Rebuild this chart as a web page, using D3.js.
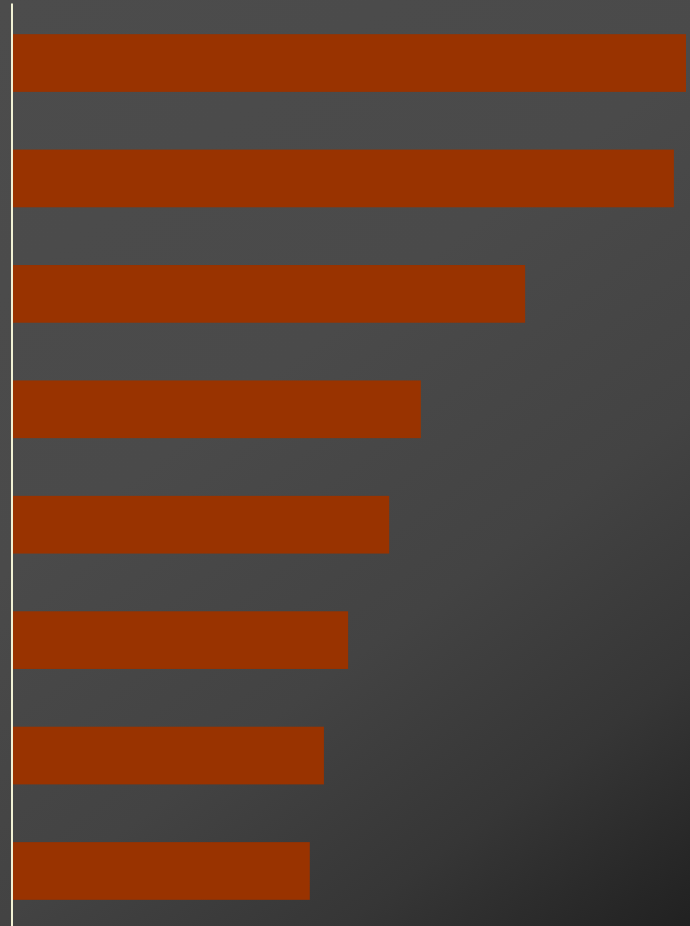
<!DOCTYPE html>
<html>
<head>
<meta charset="utf-8">
<script src="https://cdn.jsdelivr.net/npm/d3@7"></script>
<style>
  html, body { margin: 0; padding: 0; background: #222; overflow: hidden; }
  svg { display: block; }
</style>
</head>
<body>
<svg id="svg_bars" width="690" height="926"></svg>
<script>
// Bar chart data (no labels shown in the picture)
const categories = ['1', '2', '3', '4', '5', '6', '7', '8'];
const values = [100, 98.2, 76.1, 60.6, 55.9, 49.8, 46.2, 44.1];

const width = 690;
const height = 926;

let svg = d3.select('#svg_bars');

/* Background gradient, light top-left to dark bottom-right */
let defs = svg.append('defs');
let grad = defs.append('linearGradient')
    .attr('id', 'bg')
    .attr('gradientUnits', 'userSpaceOnUse')
    .attr('x1', 0).attr('y1', 0)
    .attr('x2', width).attr('y2', height);
grad.append('stop').attr('offset', '0%').attr('stop-color', '#4c4c4c');
grad.append('stop').attr('offset', '40%').attr('stop-color', '#4a4a4a');
grad.append('stop').attr('offset', '64%').attr('stop-color', '#434343');
grad.append('stop').attr('offset', '82%').attr('stop-color', '#363636');
grad.append('stop').attr('offset', '100%').attr('stop-color', '#212121');

svg.append('rect')
   .attr('width', width)
   .attr('height', height)
   .attr('fill', 'url(#bg)');

/* Scales */
let xScale = d3.scaleLinear()
    .domain([0, 100])
    .range([13, 686]);

let yScale = d3.scaleBand()
    .domain(categories)
    .range([3, 931])
    .paddingInner(0.5)
    .paddingOuter(0.27);

/* Bars */
svg.append('g')
   .selectAll('rect')
   .data(values)
   .join('rect')
   .attr('x', xScale(0))
   .attr('y', (d, i) => yScale(categories[i]))
   .attr('width', d => xScale(d) - xScale(0))
   .attr('height', yScale.bandwidth())
   .attr('fill', '#993300');

/* Y axis: only the line */
let yAxis = d3.axisLeft(yScale)
    .tickSize(0)
    .tickSizeOuter(0)
    .tickFormat('');

let gy = svg.append('g')
   .attr('transform', `translate(${11.5}, 0)`)
   .call(yAxis);

gy.select('.domain')
  .attr('stroke', '#f2f2d4')
  .attr('stroke-width', 2);
gy.selectAll('.tick').remove();
</script>
</body>
</html>
